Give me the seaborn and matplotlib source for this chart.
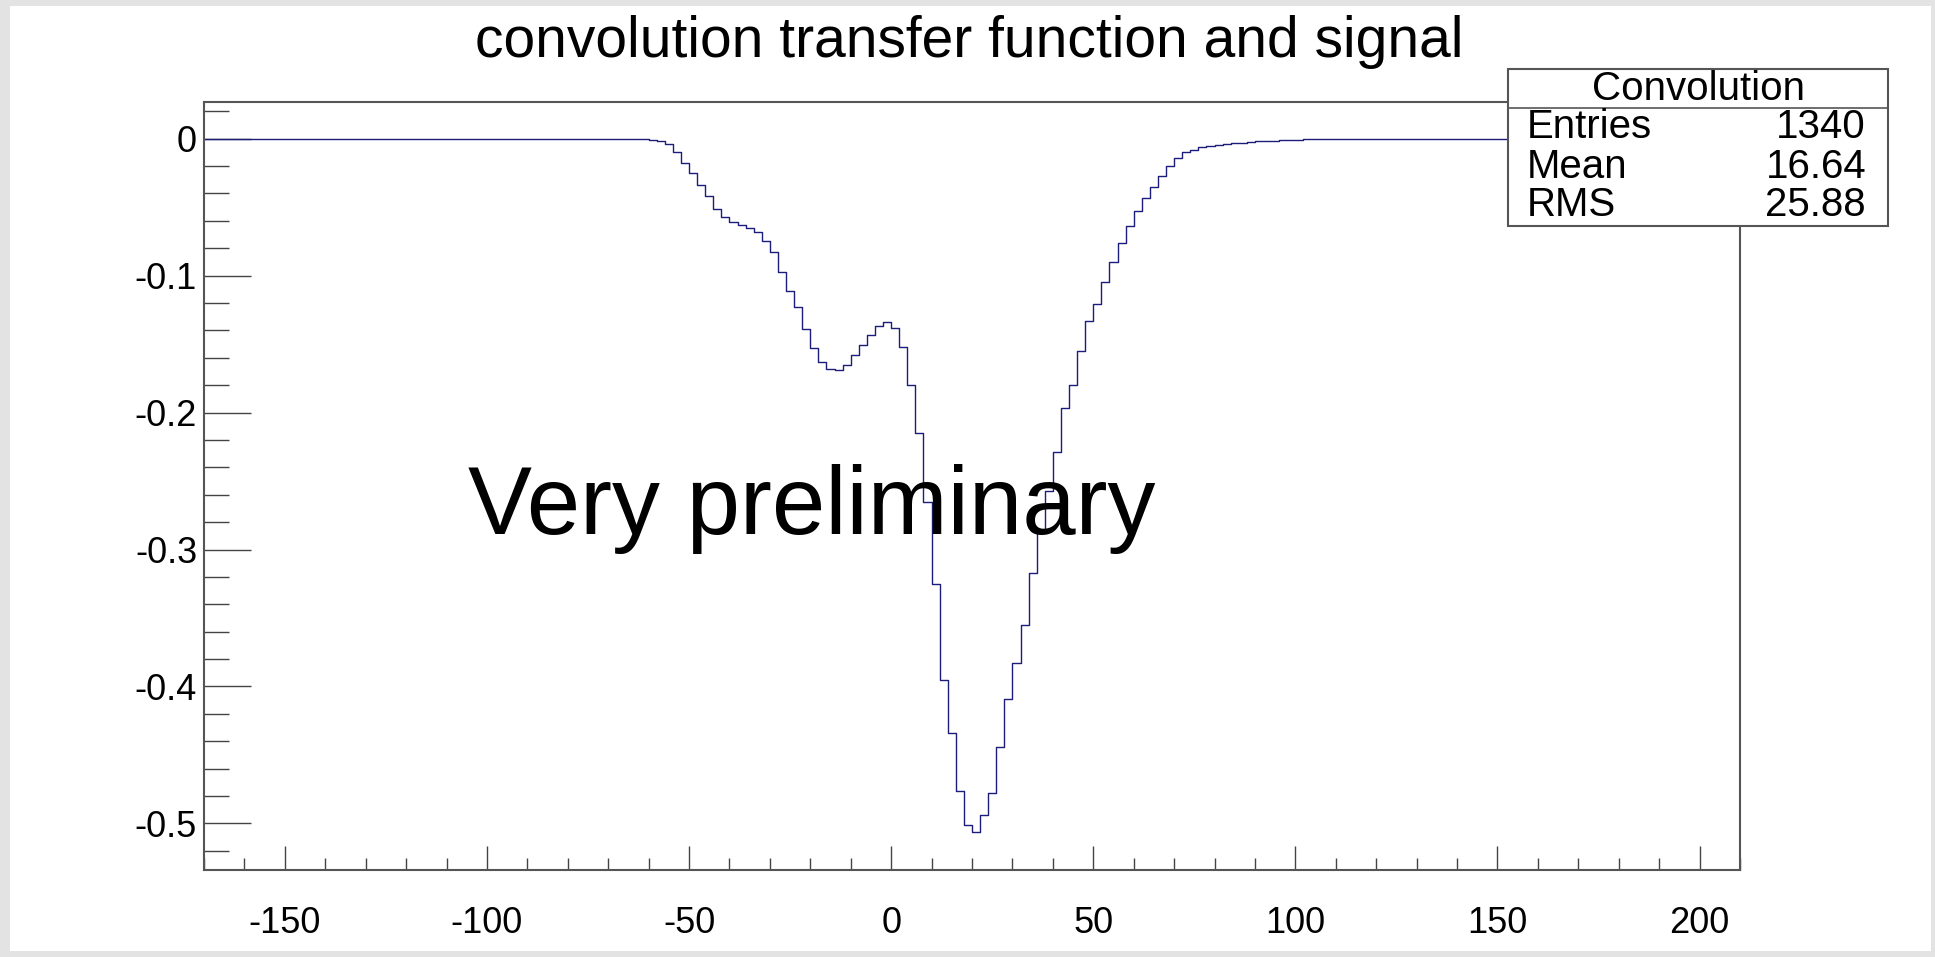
import numpy as np
import pandas as pd
import matplotlib
matplotlib.use("Agg")
import matplotlib.pyplot as plt
import seaborn as sns
from matplotlib.patches import Rectangle
from matplotlib.lines import Line2D

# Bin contents (bin width 2), centres -65 ... 105
bin_centres = np.arange(-65, 107, 2)
conv_values = [
    -0.000, -0.000, -0.0005, -0.001, -0.002, -0.004, -0.010, -0.018, -0.025, -0.034,
    -0.042, -0.051, -0.057, -0.061, -0.063, -0.065, -0.068, -0.075, -0.083, -0.097,
    -0.111, -0.123, -0.139, -0.153, -0.163, -0.168, -0.169, -0.165, -0.158, -0.151,
    -0.143, -0.137, -0.134, -0.138, -0.152, -0.180, -0.215, -0.265, -0.325, -0.395,
    -0.434, -0.476, -0.501, -0.506, -0.494, -0.478, -0.444, -0.409, -0.383, -0.355,
    -0.317, -0.287, -0.257, -0.229, -0.197, -0.180, -0.155, -0.133, -0.121, -0.105,
    -0.090, -0.076, -0.064, -0.053, -0.043, -0.035, -0.027, -0.020, -0.014, -0.010,
    -0.008, -0.006, -0.005, -0.0045, -0.004, -0.0035, -0.003, -0.0025, -0.002, -0.0018,
    -0.0015, -0.0012, -0.001, -0.0008, -0.0006, -0.0004,
]

x_ticks = [-150, -100, -50, 0, 50, 100, 150, 200]
x_tick_labels = ["-150", "-100", "-50", "0", "50", "100", "150", "200"]
y_ticks = [0, -0.1, -0.2, -0.3, -0.4, -0.5]
y_tick_labels = ["0", "-0.1", "-0.2", "-0.3", "-0.4", "-0.5"]

title = "convolution transfer function and signal"
watermark = "Very preliminary"
stats_name = "Convolution"
stats_labels = ["Entries", "Mean", "RMS"]
stats_values = ["1340", "16.64", "25.88"]

# full histogram range -170 .. 210, empty bins outside the signal
full_centres = np.arange(-169, 210, 2)
weights = pd.Series(0.0, index=full_centres)
weights.loc[bin_centres] = conv_values
df = pd.DataFrame({"x": weights.index, "w": weights.values})

sns.set_style("white")
plt.rcParams["font.family"] = ["Liberation Sans", "DejaVu Sans"]
plt.rcParams["axes.unicode_minus"] = False
plt.rcParams["text.color"] = "black"

W, H = 1935, 957
fig = plt.figure(figsize=(W / 100, H / 100), dpi=100)
fig.patch.set_facecolor("#e3e3e3")
fig.patches.append(Rectangle((10 / W, 6 / H), (1931 - 10) / W, (H - 12) / H,
                             transform=fig.transFigure, facecolor="white",
                             edgecolor="none", zorder=-1))

ax = fig.add_axes([204 / W, 1 - 870 / H, (1740 - 204) / W, (870 - 101.7) / H])
ax.set_facecolor("white")

sns.histplot(data=df, x="x", weights="w", binwidth=2, binrange=(-170, 210),
             element="step", fill=False, color="#1c1c7a", linewidth=1.0, ax=ax)

ax.set_xlim(-170, 210)
ax.set_ylim(-0.534, 0.027)
ax.set_xlabel("")
ax.set_ylabel("")

ax.set_xticks(x_ticks, labels=x_tick_labels)
ax.set_xticks(np.arange(-170, 211, 10), minor=True)
ax.set_yticks(y_ticks, labels=y_tick_labels)
ax.set_yticks(np.arange(-0.52, 0.03, 0.02), minor=True)

ax.tick_params(axis="x", which="major", direction="in", length=17, width=1,
               color="#444444", pad=26, labelsize=26, labelcolor="black",
               bottom=True, top=False)
ax.tick_params(axis="x", which="minor", direction="in", length=9, width=1,
               color="#444444", bottom=True, top=False)
ax.tick_params(axis="y", which="major", direction="in", length=34, width=1,
               color="#444444", pad=5, labelsize=26, labelcolor="black",
               left=True, right=False)
ax.tick_params(axis="y", which="minor", direction="in", length=18, width=1,
               color="#444444", left=True, right=False)

for s in ax.spines.values():
    s.set_visible(True)
    s.set_color("#555555")
    s.set_linewidth(1.5)

fig.text(969 / W, 1 - 57 / H, title, ha="center", va="baseline", fontsize=41)
ax.text(-104.7, -0.289, watermark, fontsize=69, ha="left", va="baseline")

# statistics box
bx0, bx1, by0, by1 = 1508, 1888, 69, 226
fig.patches.append(Rectangle((bx0 / W, 1 - by1 / H), (bx1 - bx0) / W, (by1 - by0) / H,
                             transform=fig.transFigure, facecolor="white",
                             edgecolor="#555555", linewidth=1.5, zorder=5))
fig.lines.append(Line2D([bx0 / W, bx1 / W], [1 - 108 / H, 1 - 108 / H],
                        transform=fig.transFigure, color="#555555", linewidth=1.2, zorder=6))
fig.text((bx0 + bx1) / 2 / W, 1 - 100 / H, stats_name, ha="center", va="baseline",
         fontsize=29, zorder=7)
row_baselines = [138, 178, 216]
for lab, val, yb in zip(stats_labels, stats_values, row_baselines):
    fig.text(1527 / W, 1 - yb / H, lab, ha="left", va="baseline", fontsize=29, zorder=7)
    fig.text(1866 / W, 1 - yb / H, val, ha="right", va="baseline", fontsize=29, zorder=7)

fig.savefig("out.png", dpi=100, facecolor=fig.get_facecolor())
